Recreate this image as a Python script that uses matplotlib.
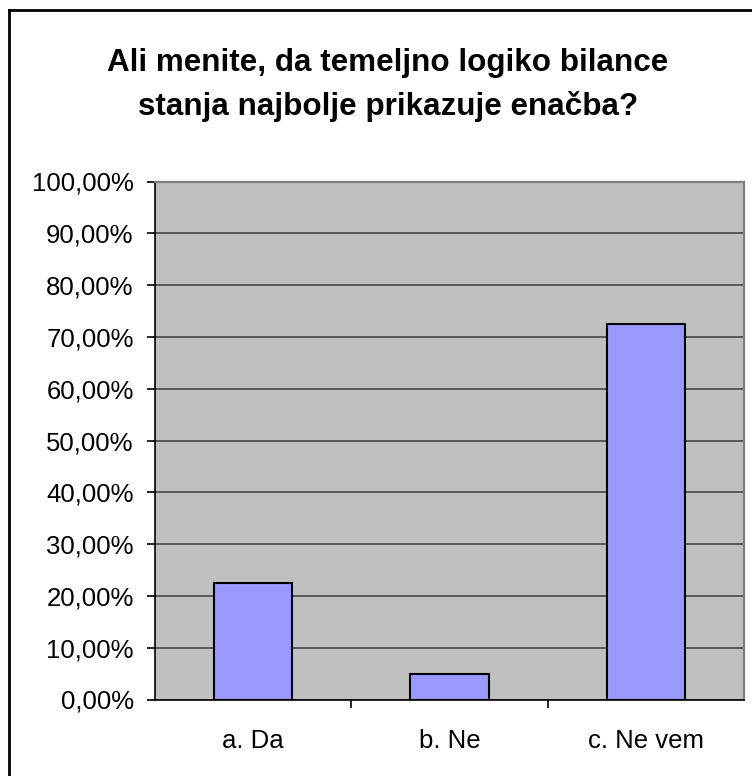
"""
    Survey bar chart: Ali menite, da temeljno logiko bilance stanja najbolje prikazuje enačba?
"""

import matplotlib.pyplot as plt
import matplotlib.ticker as mticker
from matplotlib.lines import Line2D

categories = ['a. Da', 'b. Ne', 'c. Ne vem']
shares = [22.5, 5.0, 72.5]   #percent of answers
yticks = list(range(0, 101, 10))

W, H = 752, 776
fig = plt.figure(figsize=(W/100, H/100), dpi=100)
plt.rcParams['font.family'] = ['Liberation Sans', 'DejaVu Sans']

#Axes box in pixel coords (left, top, right, bottom)
l, t, r, b = 154.5, 181.5, 744.5, 699.5
ax = fig.add_axes([l/W, 1 - b/H, (r-l)/W, (b-t)/H])
ax.set_facecolor('#c0c0c0')

x = range(len(categories))
ax.bar(x, shares, width=0.4, color='#9999ff', edgecolor='black', linewidth=1.5, zorder=3)

ax.set_xlim(-0.5, len(categories) - 0.5)
ax.set_ylim(0, 100)
ax.set_yticks(yticks)
ax.yaxis.set_major_formatter(mticker.FuncFormatter(lambda v, p: ('%.2f%%' % v).replace('.', ',')))
ax.yaxis.grid(True, color='#595959', linewidth=1.4, zorder=1)
ax.set_axisbelow(True)

ax.set_xticks(list(x))
ax.set_xticklabels(categories)
ax.set_xticks([0.5, 1.5], minor=True)
ax.tick_params(axis='x', which='major', length=0, pad=21, labelsize=18.5)
ax.tick_params(axis='x', which='minor', length=6, width=1.2, direction='out', color='black')
ax.tick_params(axis='y', length=6, width=1.2, direction='out', color='black', pad=9, labelsize=18.5)

for side in ['top', 'right']:
    ax.spines[side].set_color('#808080')
    ax.spines[side].set_linewidth(1.6)
for side in ['left', 'bottom']:
    ax.spines[side].set_color('black')
    ax.spines[side].set_linewidth(1.2)
ax.spines['bottom'].set_zorder(4)

fig.text(388/W, 1 - 85/H, 'Ali menite, da temeljno logiko bilance\nstanja najbolje prikazuje enačba?',
         ha='center', va='center', fontsize=22.6, fontweight='bold', linespacing=1.5)

#Outer chart frame (right and bottom edges are cut off in the picture)
fig.add_artist(Line2D([8.5/W, 8.5/W], [0, 1 - 9.5/H], color='black', linewidth=2, transform=fig.transFigure))
fig.add_artist(Line2D([8.5/W, 1], [1 - 9.5/H, 1 - 9.5/H], color='black', linewidth=2, transform=fig.transFigure))

plt.savefig('out.png', dpi=100)
